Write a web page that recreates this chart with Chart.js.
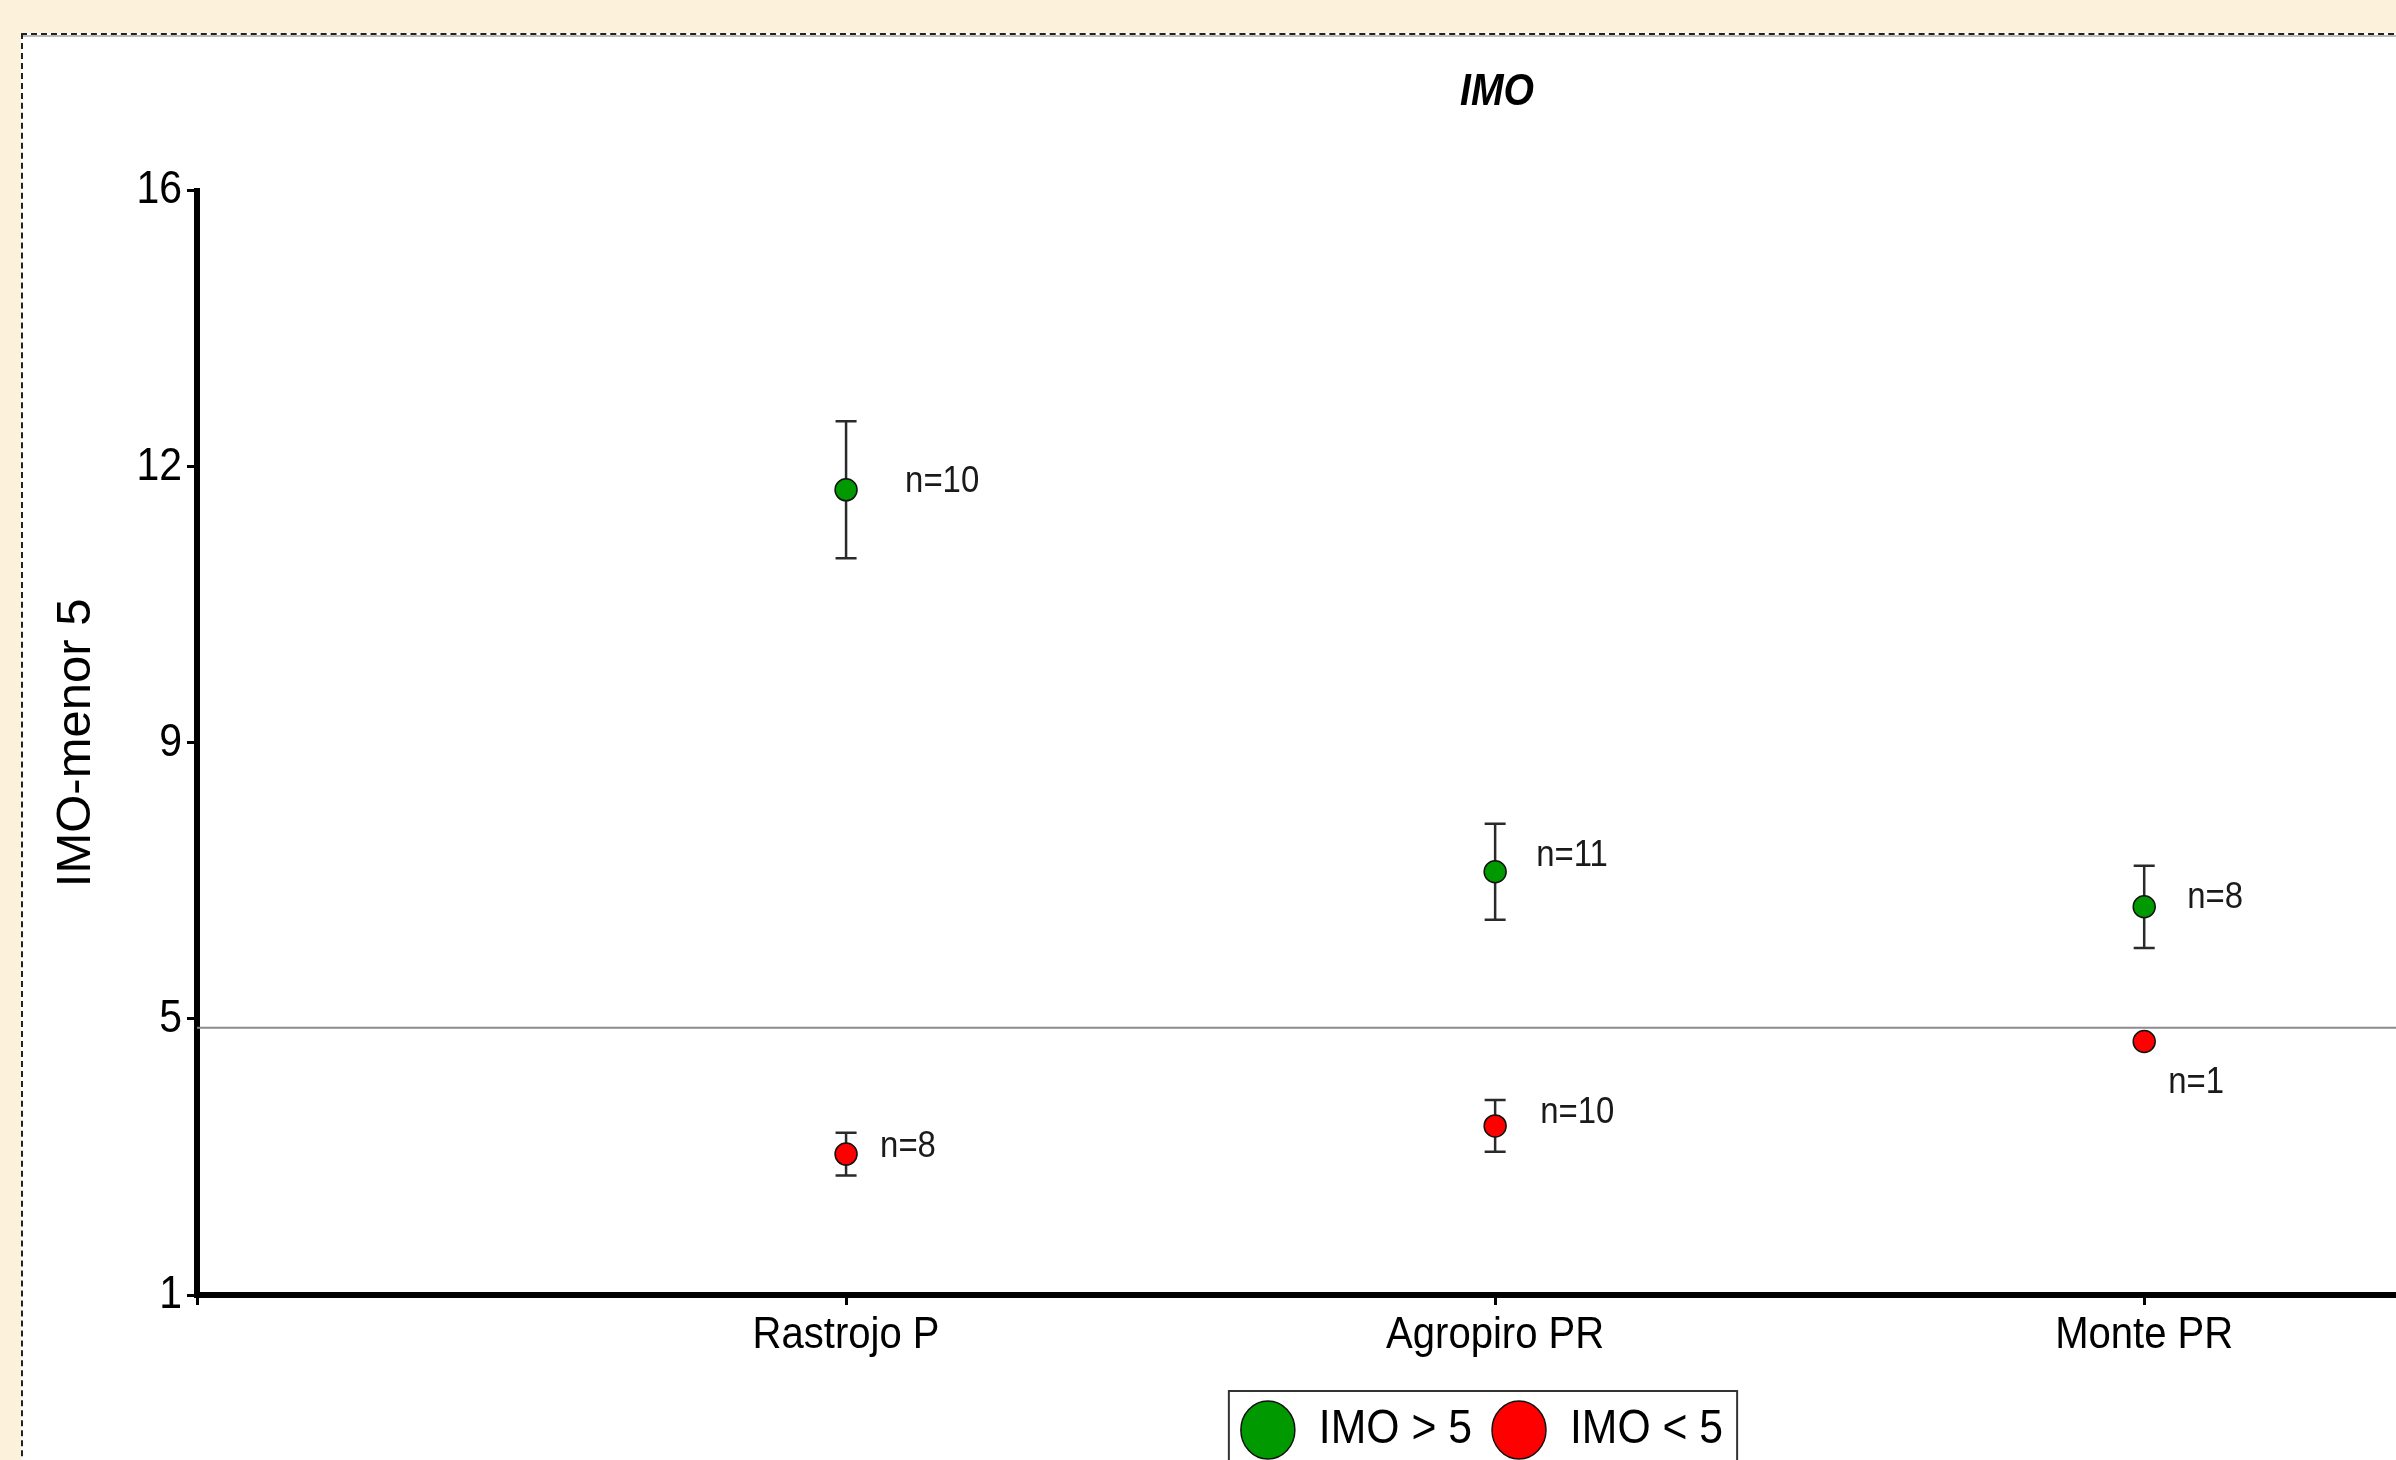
<!DOCTYPE html>
<html>
<head>
<meta charset="utf-8">
<script src="https://cdn.jsdelivr.net/npm/chart.js@4.4.1/dist/chart.umd.min.js"></script>
<style>
  html, body { margin: 0; padding: 0; width: 2396px; height: 1460px; overflow: hidden; background: #FCF2DC; }
  #frame { position: absolute; left: 21px; top: 33px; width: 3200px; height: 2000px; background: #ffffff;
           border-left: 2px dashed #222; border-top: 2px dashed #222; box-shadow: inset 0 3px 0 -1px #bdbdbd; }
  #c { position: absolute; left: 0; top: 0; }
</style>
</head>
<body>
<div id="frame"></div>
<canvas id="c" width="2994" height="1467"></canvas>
<script>
// ---- data ----
const categories = ["Rastrojo P", "Agropiro PR", "Monte PR"];
const seriesNames = ["IMO > 5", "IMO < 5"];
const greenMeans = [12.07, 7.05, 6.59];
const greenErr   = [0.90, 0.63, 0.54];
const greenN     = ["n=10", "n=11", "n=8"];
const redMeans   = [3.34, 3.71, 4.82];
const redErr     = [0.28, 0.34, 0];
const redN       = ["n=8", "n=10", "n=1"];
const yTickLabels = ["1", "5", "9", "12", "16"];
const yMin = 1.488, yMax = 16;
const xMin = 0, xMax = 4.29;
const refValue = 5;
const chartTitle = "IMO";
const yTitle = "IMO-menor 5";

// ---- style ----
const FONT = '"Liberation Sans", Arial, sans-serif';
const GREEN = "#009a00", RED = "#ff0000";
const SX = 0.89; // horizontal condensation of the original's narrow lettering
const LEGEND_SHIFT = -15;
const nOffsets = {
  green: [[59, -8], [41, -16], [43, -9]],
  red:   [[34, -7], [45, -13], [24, 41]]
};

const canvas = document.getElementById("c");
const ctx = canvas.getContext("2d");
// condensed text rendering (text stays real text, just narrower glyphs)
(function condense(c) {
  const origFill = c.fillText.bind(c);
  const origMeasure = c.measureText.bind(c);
  const rotated = () => { const t = c.getTransform(); return Math.abs(t.b) > 1e-6; };
  c.fillText = function (text, x, y, maxWidth) {
    if (rotated()) { return maxWidth !== undefined ? origFill(text, x, y, maxWidth) : origFill(text, x, y); }
    c.save(); c.translate(x, y); c.scale(SX, 1);
    if (maxWidth !== undefined) origFill(text, 0, 0, maxWidth / SX); else origFill(text, 0, 0);
    c.restore();
  };
  c.measureText = function (text) {
    const m = origMeasure(text);
    if (rotated()) return m;
    return { width: m.width * SX, actualBoundingBoxAscent: m.actualBoundingBoxAscent,
             actualBoundingBoxDescent: m.actualBoundingBoxDescent,
             actualBoundingBoxLeft: m.actualBoundingBoxLeft * SX, actualBoundingBoxRight: m.actualBoundingBoxRight * SX };
  };
})(ctx);

const legendShiftPlugin = {
  id: "legendShift",
  afterLayout(chart) {
    if (chart.legend) { chart.legend.left += LEGEND_SHIFT; chart.legend.right += LEGEND_SHIFT; }
  }
};

const refLinePlugin = {
  id: "refLine",
  beforeDatasetsDraw(chart) {
    const {ctx, chartArea, scales} = chart;
    const y = scales.y.getPixelForValue(refValue);
    ctx.save();
    ctx.strokeStyle = "#8c8c8c";
    ctx.lineWidth = 2;
    ctx.beginPath();
    ctx.moveTo(chartArea.left, y);
    ctx.lineTo(chartArea.right, y);
    ctx.stroke();
    ctx.restore();
  }
};

const errorBarPlugin = {
  id: "errorBars",
  beforeDatasetsDraw(chart) {
    const {ctx, scales} = chart;
    const sets = [[greenMeans, greenErr], [redMeans, redErr]];
    ctx.save();
    ctx.strokeStyle = "#2a2a2a";
    ctx.lineWidth = 2.5;
    sets.forEach(([m, e]) => {
      m.forEach((v, i) => {
        if (!e[i]) return;
        const x = scales.x.getPixelForValue(i + 1);
        const y1 = scales.y.getPixelForValue(v + e[i]);
        const y2 = scales.y.getPixelForValue(v - e[i]);
        ctx.beginPath();
        ctx.moveTo(x, y1); ctx.lineTo(x, y2);
        ctx.moveTo(x - 10.5, y1); ctx.lineTo(x + 10.5, y1);
        ctx.moveTo(x - 10.5, y2); ctx.lineTo(x + 10.5, y2);
        ctx.stroke();
      });
    });
    ctx.restore();
  }
};

const nLabelPlugin = {
  id: "nLabels",
  afterDatasetsDraw(chart) {
    const {ctx, scales} = chart;
    ctx.save();
    ctx.font = "37px " + FONT;
    ctx.fillStyle = "#1a1a1a";
    ctx.textAlign = "left";
    ctx.textBaseline = "middle";
    [[greenMeans, greenN, nOffsets.green], [redMeans, redN, nOffsets.red]].forEach(([m, labels, offs]) => {
      m.forEach((v, i) => {
        const x = scales.x.getPixelForValue(i + 1);
        const y = scales.y.getPixelForValue(v);
        ctx.fillText(labels[i], x + offs[i][0], y + offs[i][1]);
      });
    });
    ctx.restore();
  }
};

const legendBoxPlugin = {
  id: "legendBox",
  afterDraw(chart) {
    const lg = chart.legend;
    if (!lg || !lg.legendHitBoxes || !lg.legendHitBoxes.length) return;
    const hb = lg.legendHitBoxes;
    let l = Infinity, r = -Infinity, t = Infinity, b = -Infinity;
    hb.forEach(h => { l = Math.min(l, h.left); r = Math.max(r, h.left + h.width); t = Math.min(t, h.top); b = Math.max(b, h.top + h.height); });
    const ctx = chart.ctx;
    ctx.save();
    ctx.strokeStyle = "#333";
    ctx.lineWidth = 2;
    ctx.strokeRect(l - 12, t - 15, (r - l) + 26, (b - t) + 30);
    ctx.restore();
  }
};

new Chart(ctx, {
  type: "scatter",
  data: {
    datasets: [
      {
        label: seriesNames[0],
        data: greenMeans.map((v, i) => ({x: i + 1, y: v})),
        backgroundColor: GREEN, borderColor: "#111", borderWidth: 1.5,
        pointRadius: 11, pointStyle: "circle"
      },
      {
        label: seriesNames[1],
        data: redMeans.map((v, i) => ({x: i + 1, y: v})),
        backgroundColor: RED, borderColor: "#111", borderWidth: 1.5,
        pointRadius: 11, pointStyle: "circle"
      }
    ]
  },
  options: {
    responsive: false,
    devicePixelRatio: 1,
    animation: false,
    layout: { padding: { left: 0, right: 0, top: 0, bottom: 3 } },
    plugins: {
      tooltip: { enabled: false },
      title: {
        display: true, text: chartTitle, color: "#000",
        font: { family: FONT, size: 44, weight: "bold", style: "italic" },
        padding: { top: 66, bottom: 72 }
      },
      legend: {
        display: true, position: "bottom",
        labels: {
          usePointStyle: true, pointStyleWidth: 54, boxHeight: 41,
          color: "#000", padding: 20,
          font: { family: FONT, size: 48 }
        }
      }
    },
    scales: {
      x: {
        type: "linear", min: xMin, max: xMax,
        afterBuildTicks(s) { s.ticks = [0, 1, 2, 3, 4].map(v => ({value: v})); },
        afterFit(s) { s.height = 91; },
        ticks: {
          color: "#000", padding: 4, autoSkip: false, maxRotation: 0,
          font: { family: FONT, size: 45 },
          callback: (v) => categories[v - 1] !== undefined ? categories[v - 1] : ""
        },
        grid: { display: true, drawOnChartArea: false, drawTicks: true, tickLength: 10, tickWidth: 3, tickColor: "#000" },
        border: { display: true, color: "#000", width: 6 }
      },
      y: {
        type: "linear", min: yMin, max: yMax,
        afterBuildTicks(s) { s.ticks = yTickLabels.map((_, i) => ({value: yMin + i * (yMax - yMin) / (yTickLabels.length - 1)})); },
        afterFit(s) { s.width = 197; },
        ticks: {
          color: "#000", padding: 5, autoSkip: false,
          font: { family: FONT, size: 46 },
          callback: (v, i) => yTickLabels[i]
        },
        grid: { display: true, drawOnChartArea: false, drawTicks: true, tickLength: 10, tickWidth: 3, tickColor: "#000" },
        border: { display: true, color: "#000", width: 6 },
        title: {
          display: true, text: yTitle, color: "#000",
          font: { family: FONT, size: 49 },
          padding: { top: 47, bottom: 0 }
        }
      }
    }
  },
  plugins: [legendShiftPlugin, refLinePlugin, errorBarPlugin, nLabelPlugin, legendBoxPlugin]
});
</script>
</body>
</html>
